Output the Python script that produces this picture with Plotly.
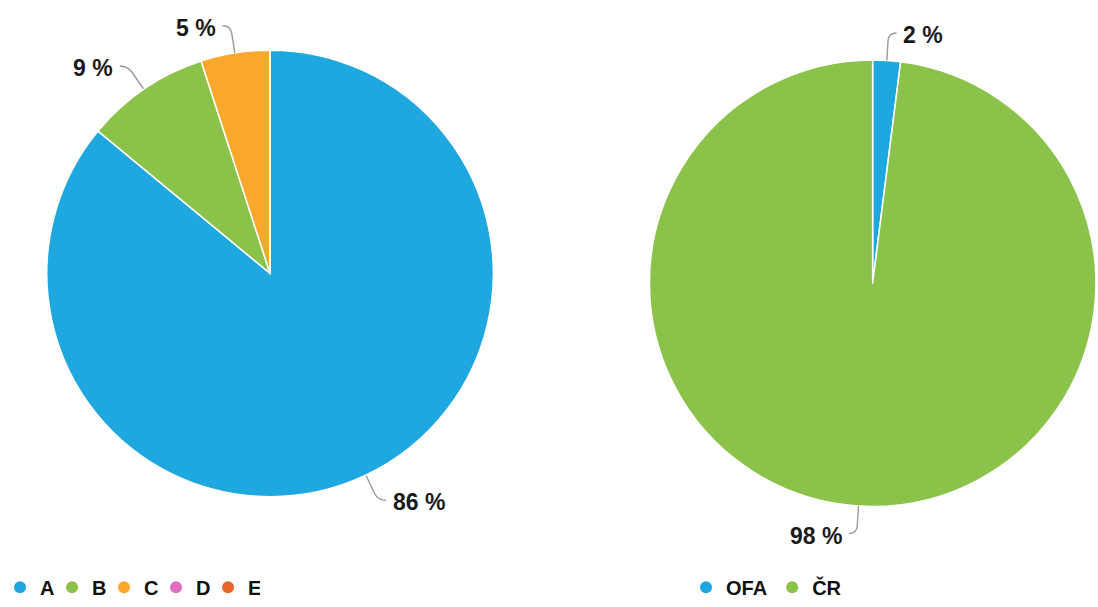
import math
import plotly.graph_objects as go

# Rozdělení podle kategorií (levý graf)
cat_labels = ["A", "B", "C", "D", "E"]
cat_values = [86, 9, 5, 0, 0]
cat_colors = ["#1FA8E0", "#8BC34A", "#F9A82B", "#DE6FC0", "#E8652C"]

# Podíl OFA a ČR (pravý graf)
src_labels = ["OFA", "ČR"]
src_values = [2, 98]
src_colors = ["#1FA8E0", "#8BC34A"]

# Rozměr plátna a umístění koláčů v pixelech
W, H = 1098, 607
LEFT = dict(cx=264, cy=278, r=227)
RIGHT = dict(cx=871, cy=288, r=227)

FONT = "Liberation Sans, Arial, sans-serif"
LINE_COLOR = "#9a9a9a"


def X(px):
    return px / W


def Y(py):
    return 1 - py / H


def domain(p):
    return dict(
        x=[X(p["cx"] - p["r"]), X(p["cx"] + p["r"])],
        y=[Y(p["cy"] + p["r"]), Y(p["cy"] - p["r"])],
    )


def leaders(values, p):
    """Popisky procent s ohnutou vodicí čarou od okraje výseče."""
    total = sum(values)
    shapes, annots = [], []
    start = 0
    for v in values:
        if v <= 0:
            continue
        mid = (start + v / 2) / total * 2 * math.pi
        start += v
        ux, uy = math.sin(mid), -math.cos(mid)
        s = 1 if ux >= 0 else -1
        px, py = p["cx"] + p["r"] * ux, p["cy"] + p["r"] * uy
        kx, ky = p["cx"] + (p["r"] + 28) * ux, p["cy"] + (p["r"] + 28) * uy
        ax, ay = kx - 8 * ux, ky - 8 * uy
        ex, ey = kx + 8 * s, ky
        path = (f"M {X(px)},{Y(py)} L {X(ax)},{Y(ay)} "
                f"Q {X(kx)},{Y(ky)} {X(ex)},{Y(ey)}")
        shapes.append(dict(type="path", path=path, xref="paper", yref="paper",
                           line=dict(color=LINE_COLOR, width=1.4)))
        annots.append(dict(
            x=X(ex + 5 * s), y=Y(ey + 2), xref="paper", yref="paper",
            text=f"{v} %", showarrow=False,
            xanchor="left" if s > 0 else "right", yanchor="middle",
            font=dict(family=FONT, size=23, color="#1a1a1a", weight="bold"),
        ))
    return shapes, annots


fig = go.Figure()

fig.add_trace(go.Pie(
    labels=cat_labels, values=cat_values, sort=False, direction="clockwise",
    rotation=0, textinfo="none", hoverinfo="label+percent", showlegend=False,
    marker=dict(colors=cat_colors, line=dict(color="white", width=1.5)),
    domain=domain(LEFT),
))
fig.add_trace(go.Pie(
    labels=src_labels, values=src_values, sort=False, direction="clockwise",
    rotation=0, textinfo="none", hoverinfo="label+percent", showlegend=False,
    marker=dict(colors=src_colors, line=dict(color="white", width=1.5)),
    domain=domain(RIGHT),
))

# Legendy s kulatými značkami
for name, color in zip(cat_labels, cat_colors):
    fig.add_trace(go.Scatter(x=[None], y=[None], mode="markers", name=name,
                             marker=dict(color=color, size=12), legend="legend",
                             legendwidth=7))
for name, color in zip(src_labels, src_colors):
    fig.add_trace(go.Scatter(x=[None], y=[None], mode="markers", name=name,
                             marker=dict(color=color, size=12), legend="legend2"))

shapes, annots = [], []
for vals, p in ((cat_values, LEFT), (src_values, RIGHT)):
    sh, an = leaders(vals, p)
    shapes += sh
    annots += an

legend_style = dict(
    orientation="h", yanchor="middle", y=Y(597), xanchor="left",
    font=dict(family=FONT, size=20, color="#111111", weight="bold"),
    itemwidth=30, bgcolor="rgba(0,0,0,0)",
)

fig.update_layout(
    margin=dict(l=0, r=0, t=0, b=0),
    paper_bgcolor="white", plot_bgcolor="white",
    xaxis=dict(visible=False), yaxis=dict(visible=False),
    shapes=shapes, annotations=annots,
    legend=dict(x=X(-8), **legend_style),
    legend2=dict(x=X(683), **legend_style),
)

fig.write_html("out.html")
